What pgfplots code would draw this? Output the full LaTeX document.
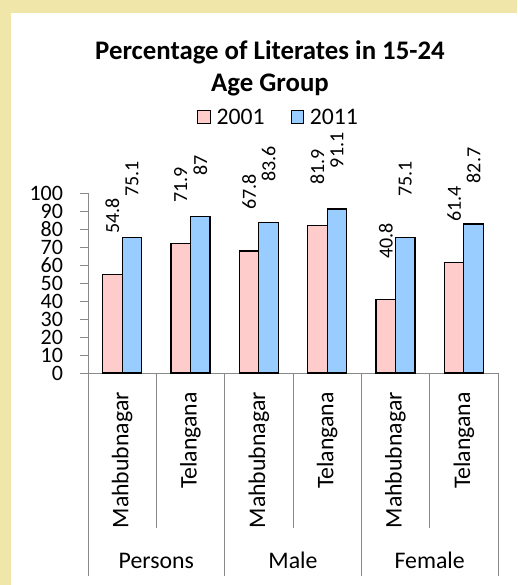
\documentclass[border=0pt]{standalone}
\usepackage{fontspec}
\setmainfont{Carlito}
\usepackage{pgfplots}
\pgfplotsset{compat=1.18}
\definecolor{beige}{RGB}{240,230,170}
\definecolor{pinkbar}{RGB}{255,204,204}
\definecolor{bluebar}{RGB}{153,204,255}
\definecolor{axisgray}{RGB}{137,137,137}
\begin{document}
\begin{tikzpicture}
\fill[beige] (0pt,0pt) rectangle (517pt,585pt);
\fill[white] (11pt,0pt) rectangle (517pt,572pt);
\node[font=\fontsize{26.8}{30}\selectfont\bfseries, anchor=base, inner sep=0pt] at (270pt,525pt) {Percentage of Literates in 15-24};
\node[font=\fontsize{26.8}{30}\selectfont\bfseries, anchor=base, inner sep=0pt] at (270pt,493.3pt) {Age Group};
\begin{axis}[
  at={(88pt,212pt)}, anchor=south west,
  scale only axis, width=410pt, height=180pt,
  xmin=-0.5, xmax=5.5, ymin=0, ymax=100,
  clip=false,
  axis lines*=left,
  axis line style={axisgray, line width=0.9pt},
  /pgf/number format/assume math mode=true,
  ybar=0pt, bar width=19.5pt,
  xtick={0,...,5},
  xticklabels={Mahbubnagar,Telangana,Mahbubnagar,Telangana,Mahbubnagar,Telangana},
  x tick label style={rotate=90, anchor=east, font=\fontsize{23.8}{24}\selectfont, inner xsep=11pt},
  xtick style={draw=none},
  ytick={0,10,...,100},
  ytick style={axisgray, line width=0.9pt},
  tick align=outside, major tick length=8pt,
  y tick label style={font=\fontsize{22}{22}\selectfont, inner ysep=0pt, xshift=-13.5pt},
  nodes near coords={\rule{0pt}{0pt}\hspace{37pt}\pgfmathprintnumber{\pgfplotspointmeta}},
  nodes near coords style={rotate=90, anchor=west, font=\fontsize{20}{20}\selectfont, black},
  legend columns=2,
  legend style={at={(0.465,1.417)}, anchor=center, draw=none, fill=none,
    font=\fontsize{23.7}{24}\selectfont,
    /tikz/every odd column/.append style={column sep=4pt},
    /tikz/every even column/.append style={column sep=24pt}},
  legend image code/.code={\draw[#1, line width=0.8pt] (0pt,-5pt) rectangle (12.5pt,7.5pt);},
]
\addplot[fill=pinkbar, draw=black, line width=1.3pt] coordinates {(0,54.8) (1,71.9) (2,67.8) (3,81.9) (4,40.8) (5,61.4)};
\addplot[fill=bluebar, draw=black, line width=1.3pt] coordinates {(0,75.1) (1,87) (2,83.6) (3,91.1) (4,75.1) (5,82.7)};
\legend{2001,2011}
\draw[axisgray, line width=0.9pt] (axis cs:-0.5,0) -- ++(0pt,-203pt);
\draw[axisgray, line width=0.9pt] (axis cs:1.5,0) -- ++(0pt,-203pt);
\draw[axisgray, line width=0.9pt] (axis cs:3.5,0) -- ++(0pt,-203pt);
\draw[axisgray, line width=0.9pt] (axis cs:5.5,0) -- ++(0pt,-203pt);
\draw[axisgray, line width=0.9pt] (axis cs:0.5,0) -- ++(0pt,-155pt);
\draw[axisgray, line width=0.9pt] (axis cs:2.5,0) -- ++(0pt,-155pt);
\draw[axisgray, line width=0.9pt] (axis cs:4.5,0) -- ++(0pt,-155pt);
\node[font=\fontsize{23.8}{24}\selectfont, anchor=base, inner sep=0pt] at ([yshift=-195.3pt]axis cs:0.5,0) {Persons};
\node[font=\fontsize{23.8}{24}\selectfont, anchor=base, inner sep=0pt] at ([yshift=-195.3pt]axis cs:2.5,0) {Male};
\node[font=\fontsize{23.8}{24}\selectfont, anchor=base, inner sep=0pt] at ([yshift=-195.3pt]axis cs:4.5,0) {Female};
\end{axis}
\end{tikzpicture}
\end{document}
